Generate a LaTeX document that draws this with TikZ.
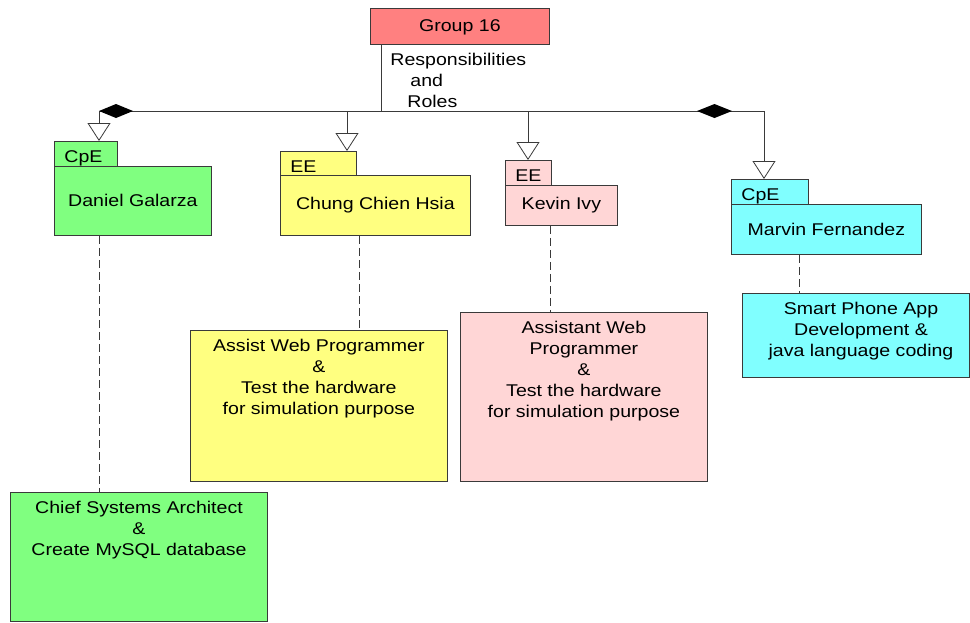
\documentclass[tikz,border=0pt]{standalone}
\usepackage{fontspec}
\setmainfont{Liberation Sans}[FakeStretch=1.15]
\usetikzlibrary{arrows.meta}
\usepackage{xcolor}
\definecolor{groupred}{HTML}{FF8080}
\definecolor{cpegreen}{HTML}{80FF80}
\definecolor{eeyellow}{HTML}{FFFF80}
\definecolor{eepink}{HTML}{FFD6D6}
\definecolor{cpecyan}{HTML}{80FFFF}
\definecolor{linegray}{HTML}{3A3A3A}

\begin{document}
\begin{tikzpicture}[x=1pt, y=-1pt, line width=0.8pt,
  font=\fontsize{17}{21}\selectfont,
  rolebox/.style={draw=linegray, inner sep=0pt, anchor=north west},
  tabbox/.style={rolebox, inner xsep=10pt, align=left, minimum height=25pt, text height=18pt, text depth=0pt},
  tasktext/.style={anchor=north, align=center, inner sep=0pt, yshift=-9pt},
  memberarrow/.style={draw=linegray, -{Triangle[open, length=18pt, width=23pt, fill=white]}},
  dashline/.style={draw=linegray, dash pattern=on 8pt off 4pt}]
  \useasboundingbox (0,0) rectangle (970,622);

  % Group box at the top
  \node[rolebox, fill=groupred, minimum width=179pt, minimum height=36pt, text depth=1pt] (grp) at (370,8) {Group 16};
  \node[anchor=north west, align=left, inner sep=0pt] (resp) at (390,53)
        {Responsibilities\\\hspace{20pt}and\\\hspace{17pt}Roles};

  % Bus line with the two diamonds
  \coordinate (drop) at (381,111);
  \coordinate (dan) at (99,111);
  \coordinate (chung) at (347,111);
  \coordinate (kev) at (528,111);
  \coordinate (mar) at (764,111);
  \draw[linegray] (grp.south west -| drop) -- (drop);
  \draw[linegray] (dan) -- (mar);
  \fill[black] (99,111) -- (116,104) -- (133,111) -- (116,118) -- cycle;
  \fill[black] (697,111) -- (714.5,104) -- (732,111) -- (714.5,118) -- cycle;

  % Daniel Galarza
  \node[tabbox, fill=cpegreen, text width=43pt] (dantab) at (54,141) {CpE};
  \node[rolebox, fill=cpegreen, minimum width=157pt, minimum height=69pt] (danmain) at (54,166) {Daniel Galarza};
  \node[rolebox, fill=cpegreen, minimum width=257pt, minimum height=129pt] (dantask) at (10,492) {};
  \node[tasktext] (dantext) at (139,492) {Chief Systems Architect\\\&\\Create MySQL database};

  % Chung Chien Hsia
  \node[tabbox, fill=eeyellow, text width=56pt] (chungtab) at (280,151) {EE};
  \node[rolebox, fill=eeyellow, minimum width=190pt, minimum height=60pt] (chungmain) at (280,175) {Chung Chien Hsia};
  \node[rolebox, fill=eeyellow, minimum width=257pt, minimum height=151pt] (chungtask) at (190,330) {};
  \node[tasktext] (chungtext) at (chungtask.north)
        {Assist Web Programmer\\\&\\Test the hardware\\for simulation purpose};

  % Kevin Ivy
  \node[tabbox, fill=eepink, text width=26pt] (kevtab) at (505,160) {EE};
  \node[rolebox, fill=eepink, minimum width=112pt, minimum height=40pt] (kevmain) at (505,185) {Kevin Ivy};
  \node[rolebox, fill=eepink, minimum width=247pt, minimum height=169pt] (kevtask) at (460,312) {};
  \node[tasktext] (kevtext) at (kevtask.north)
        {Assistant Web\\Programmer\\\&\\Test the hardware\\for simulation purpose};

  % Marvin Fernandez
  \node[tabbox, fill=cpecyan, text width=57pt] (martab) at (731,179) {CpE};
  \node[rolebox, fill=cpecyan, minimum width=190pt, minimum height=50pt] (marmain) at (731,204) {Marvin Fernandez};
  \node[rolebox, fill=cpecyan, minimum width=227pt, minimum height=84pt] (martask) at (742,293) {};
  \node[tasktext] (martext) at (861,293)
        {Smart Phone App\\Development \&\\java language coding};

  % Arrows down to the members
  \draw[memberarrow] (dan) -- (dan |- dantab.north);
  \draw[memberarrow] (chung) -- (chung |- chungtab.north);
  \draw[memberarrow] (kev) -- (kev |- kevtab.north);
  \draw[memberarrow] (mar) -- (mar |- martab.north);

  % Dashed links to the tasks
  \coordinate (chungdash) at (359,0);
  \coordinate (kevdash) at (550,0);
  \coordinate (mardash) at (799,0);
  \draw[dashline] (dan |- danmain.south) -- (dan |- dantask.north);
  \draw[dashline] (chungdash |- chungmain.south) -- (chungdash |- chungtask.north);
  \draw[dashline] (kevdash |- kevmain.south) -- (kevdash |- kevtask.north);
  \draw[dashline] (mardash |- marmain.south) -- (mardash |- martask.north);
\end{tikzpicture}
\end{document}
